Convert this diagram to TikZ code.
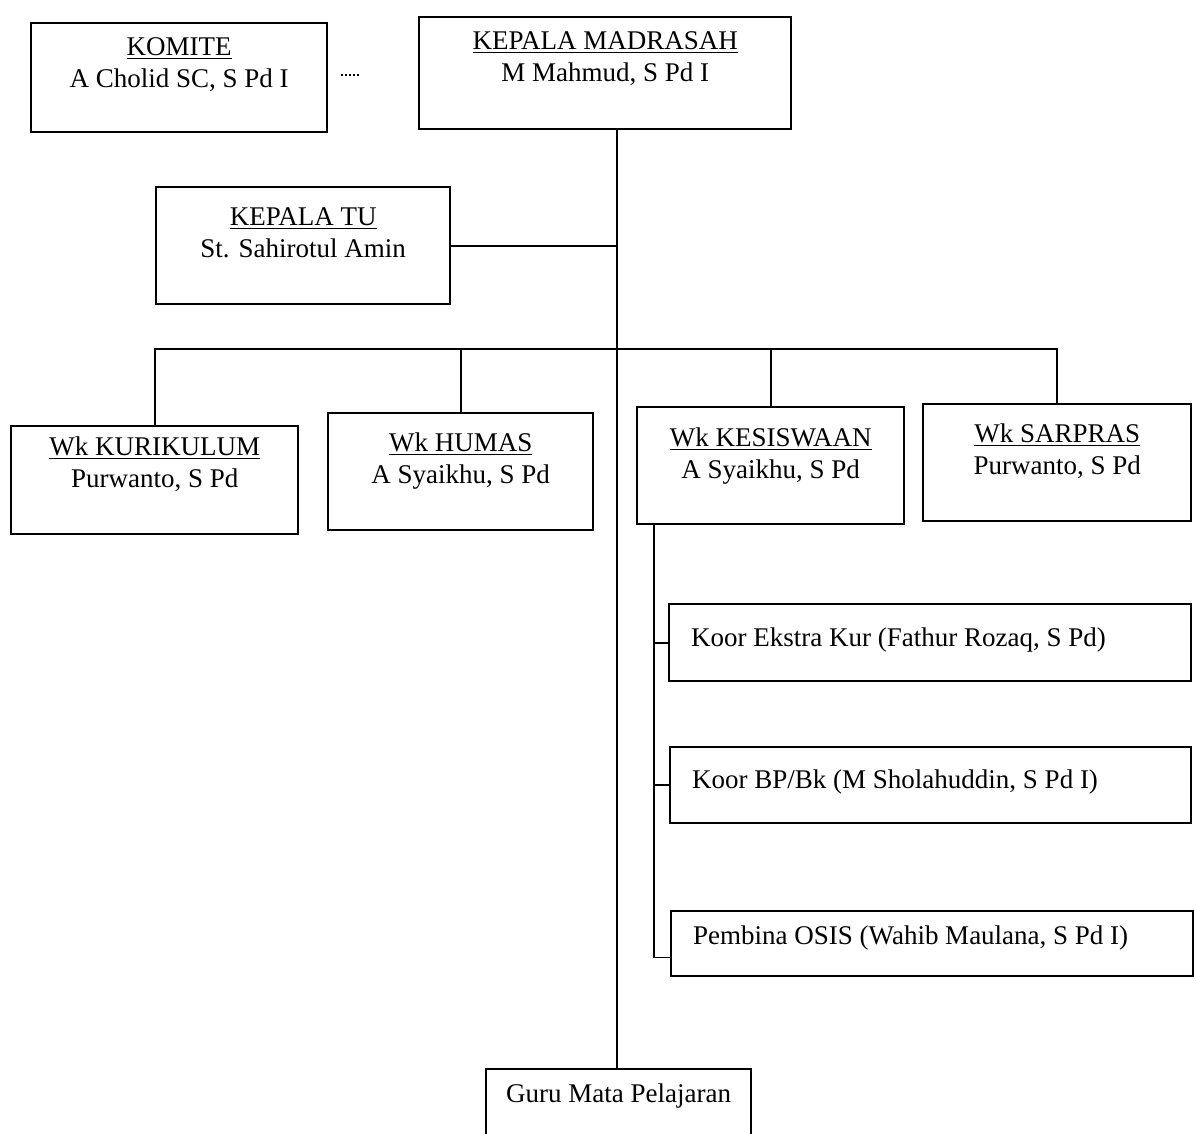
\documentclass[tikz,border=0pt]{standalone}
\usepackage{fontspec}
\setmainfont{Liberation Serif}
\usetikzlibrary{positioning, calc}

\begin{document}
\begin{tikzpicture}[x=0.5pt, y=-0.5pt,
  font=\fontsize{13.5}{16}\selectfont,
  orgbox/.style={draw, line width=1.2pt, anchor=north west, align=center,
                 inner xsep=0pt, inner ysep=0pt},
  subbox/.style={draw, line width=1.2pt, anchor=north west, align=flush left,
                 inner xsep=11pt, inner ysep=0pt},
  link/.style={line width=0.9pt}]
  \clip (0,0) rectangle (1196,1134);

  % Top
  \node[orgbox, minimum width=148pt, text height=32pt, text depth=22.5pt] (komite) at (30,22) {\underline{KOMITE}\\A Cholid SC, S Pd I};
  \node[orgbox, minimum width=186pt, text height=32pt, text depth=24pt] (madrasah) at (418,16) {\underline{KEPALA MADRASAH}\\M Mahmud, S Pd I};
  \node[orgbox, minimum width=147pt, text height=35pt, text depth=23.5pt] (tu) at (155,186) {\underline{KEPALA TU}\\St. Sahirotul Amin};

  % Wakil kepala
  \node[orgbox, minimum width=143.5pt, text height=30.5pt, text depth=23.5pt] (kurikulum) at (10,425) {\underline{Wk KURIKULUM}\\Purwanto, S Pd};
  \node[orgbox, minimum width=132.5pt, text height=35pt, text depth=23.5pt] (humas) at (327,412) {\underline{Wk HUMAS}\\A Syaikhu, S Pd};
  \node[orgbox, minimum width=133.5pt, text height=35.5pt, text depth=23pt] (kesiswaan) at (636,406) {\underline{Wk KESISWAAN}\\A Syaikhu, S Pd};
  \node[orgbox, minimum width=134pt, text height=35pt, text depth=23.5pt] (sarpras) at (922,403) {\underline{Wk SARPRAS}\\Purwanto, S Pd};

  % Koordinator kesiswaan
  \node[subbox, text width=239pt, text height=21pt, text depth=17.5pt] (ekstra) at (668,603) {Koor Ekstra Kur (Fathur Rozaq, S Pd)};
  \node[subbox, text width=238.5pt, text height=20.5pt, text depth=17.5pt] (bpbk) at (669,746) {Koor BP/Bk (M Sholahuddin, S Pd I)};
  \node[subbox, text width=239pt, text height=16.5pt, text depth=16pt] (pembina) at (670,910) {Pembina OSIS (Wahib Maulana, S Pd I)};

  % Guru
  \node[orgbox, minimum width=132.5pt, text height=16.5pt, text depth=30pt] (guru) at (485,1068) {Guru Mata Pelajaran};

  % Garis
  \coordinate (bus) at (617,349);
  \draw[link] (madrasah.south -| bus) -- (guru.north -| bus);
  \draw[link] (tu.east) -- (tu.east -| bus);
  \draw[link] (kurikulum.north) |- (bus) -| (sarpras.north);
  \draw[link] (humas.north) -- (humas.north |- bus);
  \draw[link] (kesiswaan.north) -- (kesiswaan.north |- bus);
  \coordinate (kesline) at ($(kesiswaan.south west)+(18,0)$);
  \draw[link] (kesline) |- ($(pembina.south west)+(0,-20)$);
  \draw[link] (ekstra.west) -- (ekstra.west -| kesline);
  \draw[link] (bpbk.west) -- (bpbk.west -| kesline);
  \coordinate (dotA) at ($(komite.east)+(13,-3)$);
  \coordinate (dotB) at ($(komite.east)+(32,-3)$);
  \draw[line width=1pt, dash pattern=on 1pt off 1pt] (dotA) -- (dotB);
\end{tikzpicture}
\end{document}
